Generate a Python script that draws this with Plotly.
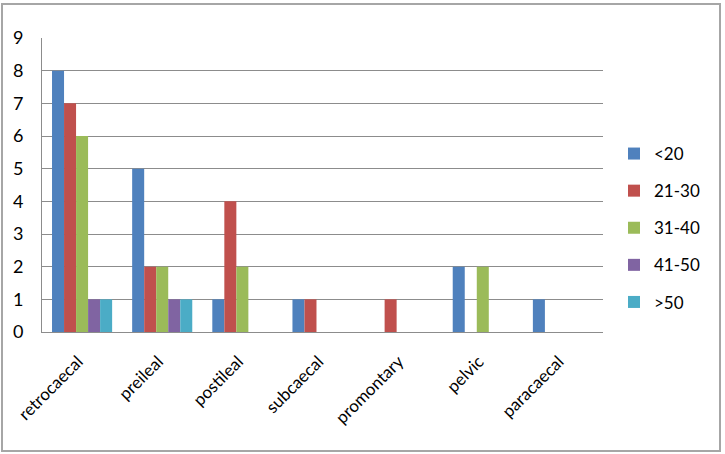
import plotly.graph_objects as go

categories = ["retrocaecal", "preileal", "postileal", "subcaecal", "promontary", "pelvic", "paracaecal"]
series_names = ["<20", "21-30", "31-40", "41-50", ">50"]
s_lt20 = [8, 5, 1, 1, 0, 2, 1]
s_21_30 = [7, 2, 4, 1, 1, 0, 0]
s_31_40 = [6, 2, 2, 0, 0, 2, 0]
s_41_50 = [1, 1, 0, 0, 0, 0, 0]
s_gt50 = [1, 1, 0, 0, 0, 0, 0]
y_ticks = [0, 1, 2, 3, 4, 5, 6, 7, 8, 9]

colors = ["#4F81BD", "#C0504D", "#9BBB59", "#8064A2", "#4BACC6"]
all_series = [s_lt20, s_21_30, s_31_40, s_41_50, s_gt50]

W, H = 725, 454
L, R, T, B = 42, 122, 38, 122
pw, ph = W - L - R, H - T - B

def px_x(p):
    return (p - L) / pw

def px_y(p):
    return (H - B - p) / ph

fig = go.Figure()
for name, vals, c in zip(series_names, all_series, colors):
    fig.add_trace(go.Bar(x=categories, y=vals, name=name, marker=dict(color=c, line=dict(width=0)),
                         legendgroup=name))

grid = "#8C8C8C"
fs = 17
fig.update_layout(
    width=W, height=H,
    margin=dict(l=L, r=R, t=T, b=B),
    paper_bgcolor="white", plot_bgcolor="white",
    barmode="group", bargap=0.25, bargroupgap=0,
    font=dict(family="Lato, Carlito, Calibri, sans-serif", size=fs, color="black"),
    xaxis=dict(tickangle=-45, showgrid=False, showline=True, linecolor=grid, linewidth=1,
               ticks="", tickfont=dict(size=fs), ticklabelstandoff=12, ticklabelshift=-4),
    yaxis=dict(range=[0, 9], tickvals=y_ticks, showgrid=True, gridcolor=grid, gridwidth=1,
               showline=True, linecolor=grid, linewidth=1, zeroline=False, ticks="",
               ticklabelstandoff=14, tickfont=dict(size=18)),
    legend=dict(x=px_x(614), y=px_y(228), xanchor="left", yanchor="middle",
                tracegroupgap=12, font=dict(size=fs), bgcolor="rgba(0,0,0,0)"),
    showlegend=True,
)
fig.add_shape(type="rect", xref="paper", yref="paper",
              x0=px_x(2), x1=px_x(720), y0=px_y(451), y1=px_y(4),
              line=dict(color="#A6A6A6", width=2), fillcolor="rgba(0,0,0,0)", layer="above")
fig.write_html("out.html")
